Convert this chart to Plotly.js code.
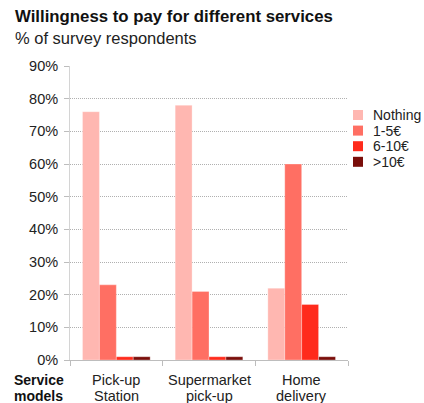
<!DOCTYPE html>
<html><head><meta charset="utf-8">
<script src="https://cdn.plot.ly/plotly-3.0.1.min.js"></script>
<style>body{margin:0;background:#fff}#c{width:424px;height:403px}</style>
</head><body><div id="c"></div>
<script>
const categories = ["Pick-up<br>Station", "Supermarket<br>pick-up", "Home<br>delivery"];
const seriesNames = ["Nothing", "1-5€", "6-10€", ">10€"];
const nothing = [76, 78, 22];
const low = [23, 21, 60];
const mid = [1, 1, 17];
const high = [1, 1, 1];
const colors = ["#FFB7B1", "#FF6F63", "#FF2B1C", "#7A0E0A"];
const values = [nothing, low, mid, high];

const traces = values.map((v, i) => ({
  type: "bar", x: categories, y: v, name: seriesNames[i],
  marker: {color: colors[i], line: {color: "rgba(255,255,255,0.6)", width: 0.5}},
  hoverinfo: "none"
}));

// plot area in pixels: x 70..348, y 66..360
const px = p => (p - 70) / 278;
const py = p => (360 - p) / 294;

const shapes = [];
const annotations = [
  {text: "<b>Willingness to pay for different services</b>", xref: "paper", yref: "paper",
   x: px(13), y: py(17), xanchor: "left", yanchor: "middle", showarrow: false,
   font: {size: 16.8, color: "#111"}},
  {text: "% of survey respondents", xref: "paper", yref: "paper",
   x: px(13), y: py(38), xanchor: "left", yanchor: "middle", showarrow: false,
   font: {size: 16.5, color: "#222"}},
  {text: "<b>Service</b>", xref: "paper", yref: "paper",
   x: px(12), y: py(380), xanchor: "left", yanchor: "middle", showarrow: false,
   font: {size: 14, color: "#111"}},
  {text: "<b>models</b>", xref: "paper", yref: "paper",
   x: px(12), y: py(396), xanchor: "left", yanchor: "middle", showarrow: false,
   font: {size: 14, color: "#111"}}
];
// category labels, two lines each
categories.forEach(c => {
  c.split("<br>").forEach((line, j) => {
    annotations.push({text: line, xref: "x", yref: "paper", x: c, y: py(380 + j * 16),
      xanchor: "center", yanchor: "middle", showarrow: false,
      font: {size: 14.5, color: "#222"}});
  });
});
seriesNames.forEach((n, i) => {
  const cy = 115 + i * 15.6;
  shapes.push({type: "rect", xref: "paper", yref: "paper",
    x0: px(353), x1: px(363), y0: py(cy - 5), y1: py(cy + 5),
    fillcolor: colors[i], line: {width: 0}});
  annotations.push({text: n, xref: "paper", yref: "paper", x: px(371), y: py(cy),
    xanchor: "left", yanchor: "middle", showarrow: false, font: {size: 14, color: "#222"}});
});

const layout = {
  width: 424, height: 403,
  margin: {l: 70, r: 76, t: 66, b: 43, autoexpand: false},
  font: {family: "Liberation Sans, Arial, sans-serif", size: 14, color: "#222"},
  paper_bgcolor: "#fff", plot_bgcolor: "#fff",
  barmode: "group", bargap: 0.27, bargroupgap: 0,
  showlegend: false,
  xaxis: {type: "category", showline: true, linecolor: "#bdbdbd", linewidth: 1,
          ticks: "outside", tickson: "boundaries", ticklen: 5, tickcolor: "#bdbdbd",
          showticklabels: false, showgrid: false, fixedrange: true},
  yaxis: {range: [0, 90], dtick: 10, ticksuffix: "%", showline: true, linecolor: "#d4d4d4",
          ticks: "outside", ticklen: 5, tickcolor: "#bdbdbd", ticklabelstandoff: 3,
          showgrid: true, gridcolor: "#b0b0b0", griddash: "1px,1px", gridwidth: 1,
          zeroline: false, tickfont: {size: 14.5, color: "#222"}, fixedrange: true},
  shapes: shapes,
  annotations: annotations
};
Plotly.newPlot("c", traces, layout, {displayModeBar: false, staticPlot: true});
</script></body></html>
